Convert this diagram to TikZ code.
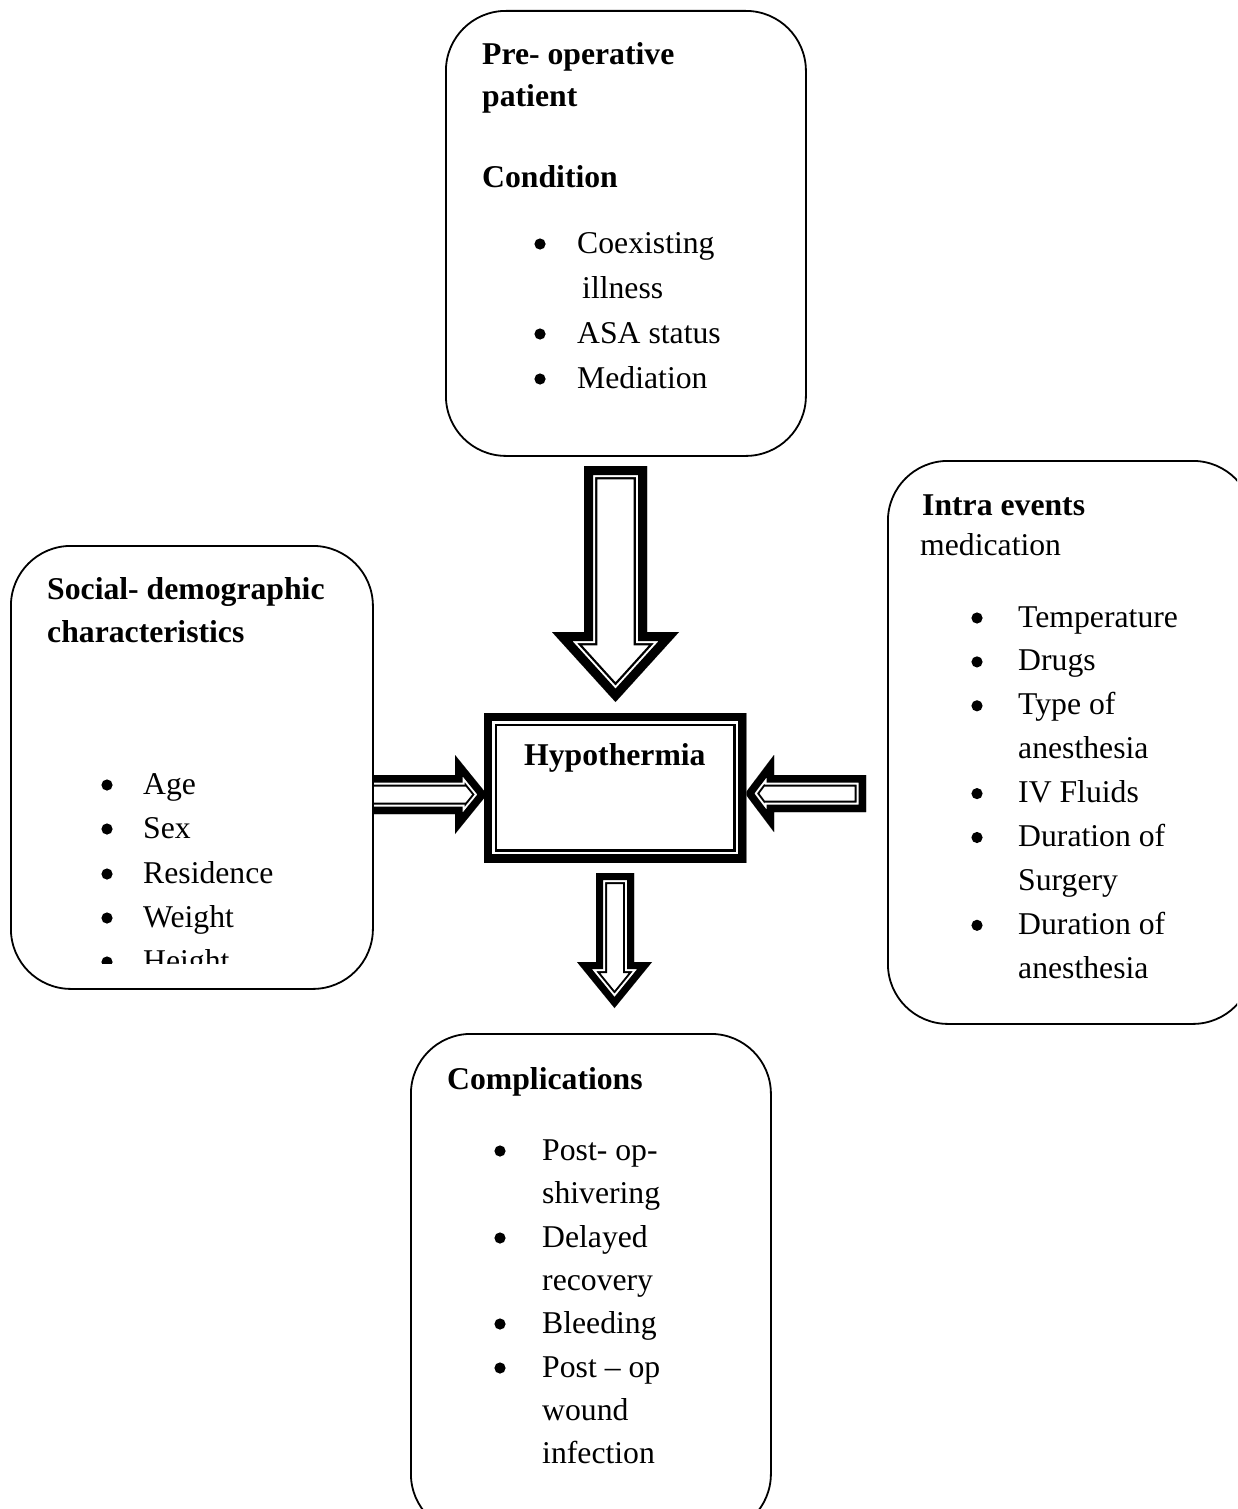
\documentclass[tikz,border=0pt]{standalone}
\usepackage{fontspec}
\setmainfont{Liberation Serif}
\newcommand\compoundline[4]{%
  \begin{scope}
    \clip #1;
    \fill[white] #1;
    \pgfmathsetmacro\cwa{2*(#2+#3+#4)}%
    \pgfmathsetmacro\cwb{2*(#2+#3)}%
    \pgfmathsetmacro\cwc{2*#2}%
    \draw[black, line width=\cwa pt, line join=miter] #1;
    \draw[white, line width=\cwb pt, line join=miter] #1;
    \draw[black, line width=\cwc pt, line join=miter] #1;
  \end{scope}}
\tikzset{
  rbox/.style={draw, line width=1.8pt, rounded corners=60pt, fill=white, inner sep=0pt, anchor=north west},
  txt/.style={anchor=base west, inner sep=0pt, font=\fontsize{31.7}{38}\selectfont},
  btxt/.style={txt, font=\fontsize{31.7}{38}\selectfont\bfseries},
  bul/.style={fill=black}
}
\begin{document}
\begin{tikzpicture}[x=1pt, y=-1pt]
\useasboundingbox (0,0) rectangle (1237,1509);
\clip (0,0) rectangle (1237,1509);

% ---- block arrows (drawn first, boxes cover hidden ends)
\compoundline{(584,466) -- (647,466) -- (647,632) -- (679,632) -- (615.5,702) -- (552,632) -- (584,632) -- cycle}{9}{2}{2.3}
\compoundline{(355,775) -- (455,775) -- (455,755) -- (487,794.5) -- (455,834) -- (455,814) -- (355,814) -- cycle}{7.5}{2}{2}
\compoundline{(866,775) -- (774,775) -- (774,755) -- (745,793.5) -- (774,832) -- (774,812) -- (866,812) -- cycle}{7.5}{2}{2}
\compoundline{(596,873) -- (634,873) -- (634,962) -- (652,962) -- (614.5,1008) -- (577,962) -- (596,962) -- cycle}{7}{2}{2}

% ---- rounded boxes
\node[rbox, minimum width=360pt, minimum height=445pt] (pre) at (445,10) {};
\node[rbox, minimum width=362pt, minimum height=443pt] (soc) at (10,545) {};
\node[rbox, minimum width=365pt, minimum height=563pt] (intra) at (887,460) {};
\node[rbox, minimum width=360pt, minimum height=500pt] (comp) at (410,1033) {};

% ---- Hypothermia box (thick-thin frame)
\node[inner sep=0pt, minimum width=262pt, minimum height=149pt, anchor=north west] (hypo) at (484,713) {};
\compoundline{(hypo.north west) rectangle (hypo.south east)}{8}{2.7}{2.3}
\node[btxt] (hypot) at (524,765) {Hypothermia};

% ---- Pre-operative box text
\node[btxt] (p1) at (482,65) {Pre- operative};
\node[btxt] (p2) at (482,107) {patient};
\node[btxt] (p3) at (482,187) {Condition};
\node[txt] (p4) at (577,253) {Coexisting};
\node[txt] (p5) at (582,298) {illness};
\node[txt] (p6) at (577,343) {ASA status};
\node[txt] (p7) at (577,388) {Mediation};
\fill[bul] (540,244) circle (5.6pt);
\fill[bul] (540,334) circle (5.6pt);
\fill[bul] (540,379) circle (5.6pt);

% ---- Social-demographic box text
\node[btxt] (s1) at (47,599) {Social- demographic};
\node[btxt] (s2) at (47,642) {characteristics};
\node[txt] (s3) at (143,794) {Age};
\node[txt] (s4) at (143,838) {Sex};
\node[txt] (s5) at (143,883) {Residence};
\node[txt] (s6) at (143,927) {Weight};
\fill[bul] (107,785) circle (5.6pt);
\fill[bul] (107,829) circle (5.6pt);
\fill[bul] (107,874) circle (5.6pt);
\fill[bul] (107,918) circle (5.6pt);
\begin{scope}
  \clip (10,545) rectangle (372,963);
  \node[txt] (s7) at (143,971) {Height};
  \fill[bul] (107,962) circle (5.6pt);
\end{scope}

% ---- Intra events box text
\node[btxt] (i1) at (922,515) {Intra events};
\node[txt] (i2) at (920,555) {medication};
\node[txt] (i3) at (1018,627) {Temperature};
\node[txt] (i4) at (1018,670.9) {Drugs};
\node[txt] (i5) at (1018,714.8) {Type of};
\node[txt] (i6) at (1018,758.7) {anesthesia};
\node[txt] (i7) at (1018,802.6) {IV Fluids};
\node[txt] (i8) at (1018,846.5) {Duration of};
\node[txt] (i9) at (1018,890.4) {Surgery};
\node[txt] (i10) at (1018,934.3) {Duration of};
\node[txt] (i11) at (1018,978.2) {anesthesia};
\fill[bul] (977,618) circle (5.6pt);
\fill[bul] (977,661.9) circle (5.6pt);
\fill[bul] (977,705.8) circle (5.6pt);
\fill[bul] (977,793.6) circle (5.6pt);
\fill[bul] (977,837.5) circle (5.6pt);
\fill[bul] (977,925.3) circle (5.6pt);

% ---- Complications box text
\node[btxt] (c1) at (447,1089) {Complications};
\node[txt] (c2) at (542,1160) {Post- op-};
\node[txt] (c3) at (542,1203) {shivering};
\node[txt] (c4) at (542,1247) {Delayed};
\node[txt] (c5) at (542,1290) {recovery};
\node[txt] (c6) at (542,1333) {Bleeding};
\node[txt] (c7) at (542,1377) {Post \textendash{} op};
\node[txt] (c8) at (542,1420) {wound};
\node[txt] (c9) at (542,1463) {infection};
\fill[bul] (500,1151) circle (5.6pt);
\fill[bul] (500,1238) circle (5.6pt);
\fill[bul] (500,1324) circle (5.6pt);
\fill[bul] (500,1368) circle (5.6pt);
\end{tikzpicture}
\end{document}
